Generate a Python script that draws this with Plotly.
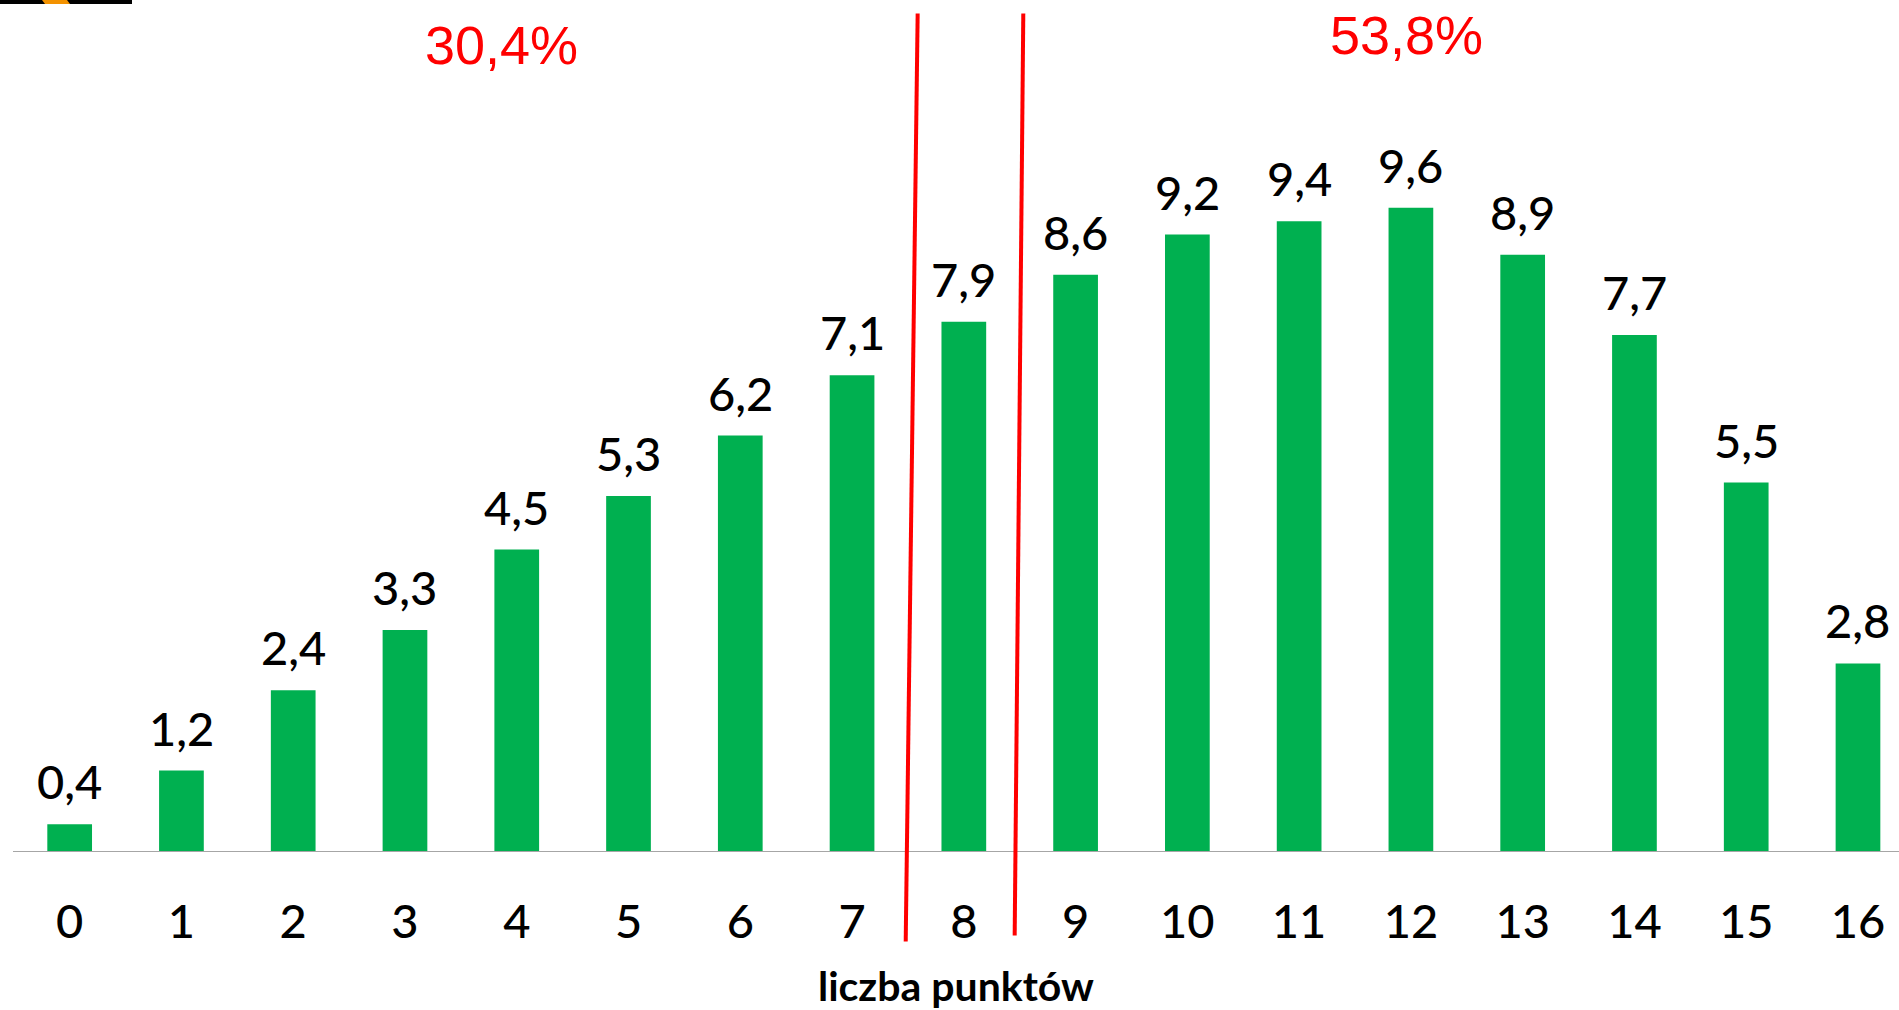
import plotly.graph_objects as go

# ---- data ----
points = [str(i) for i in range(17)]
shares = [0.4, 1.2, 2.4, 3.3, 4.5, 5.3, 6.2, 7.1, 7.9, 8.6, 9.2, 9.4, 9.6, 8.9, 7.7, 5.5, 2.8]
share_below = "30,4%"
share_above = "53,8%"
axis_title = "liczba punktów"

W, H = 1899, 1010
ML, MB = 13, 159
plot_h = H - MB
px_per_unit = 67.0

x_idx = list(range(len(points)))
labels = [f"{v:.1f}".replace(".", ",") for v in shares]

fig = go.Figure()
fig.add_trace(go.Bar(
    x=x_idx, y=shares, width=0.4,
    marker=dict(color="#00B050", line=dict(width=0)),
    hoverinfo="skip", showlegend=False,
))

LABEL_FONT = dict(family="Lato, 'Open Sans', sans-serif", size=47, color="#000000", weight=500)

for xi, v, t in zip(x_idx, shares, labels):
    fig.add_annotation(x=xi, y=v, xref="x", yref="y", text=t, showarrow=False,
                       yanchor="bottom", yshift=13, font=LABEL_FONT)

# red divider lines
def py(p):
    return (plot_h - p) / plot_h

fig.add_shape(type="line", xref="x", yref="paper", x0=7.587, y0=py(13.5), x1=7.480, y1=py(941.5),
              line=dict(color="#FF0000", width=4), layer="above")
fig.add_shape(type="line", xref="x", yref="paper", x0=8.532, y0=py(13.5), x1=8.455, y1=py(935.4),
              line=dict(color="#FF0000", width=4), layer="above")

RED_FONT = dict(family="'Liberation Sans', Arial, sans-serif", size=54, color="#FF0000")
fig.add_annotation(x=3.86, y=py(45), xref="x", yref="paper", text=share_below, showarrow=False,
                   xanchor="center", yanchor="middle", font=RED_FONT)
fig.add_annotation(x=11.96, y=py(35), xref="x", yref="paper", text=share_above, showarrow=False,
                   xanchor="center", yanchor="middle", font=RED_FONT)

# axis title
fig.add_annotation(x=0.5, y=py(986), xref="paper", yref="paper", text=f"<b>{axis_title}</b>",
                   showarrow=False, xanchor="center", yanchor="middle",
                   font=dict(family="Lato, sans-serif", size=41, color="#000000"))

# remnant of logo at top-left
def pxp(p):
    return (p - ML) / (W - ML)

fig.add_shape(type="rect", xref="paper", yref="paper", x0=pxp(0), x1=pxp(132), y0=py(4), y1=py(0),
              fillcolor="#000000", line=dict(width=0), layer="above")
fig.add_shape(type="path", xref="paper", yref="paper",
              path=f"M {pxp(42)} {py(0)} L {pxp(67)} {py(0)} L {pxp(70)} {py(4)} L {pxp(45)} {py(4)} Z",
              fillcolor="#F39200", line=dict(width=0), layer="above")

fig.update_layout(
    width=W, height=H,
    margin=dict(l=ML, r=0, t=0, b=MB, autoexpand=False),
    plot_bgcolor="#FFFFFF", paper_bgcolor="#FFFFFF",
    xaxis=dict(range=[-0.507, 16.367], tickmode="array", tickvals=x_idx, ticktext=points,
               showgrid=False, zeroline=False, showline=True, linecolor="#A6A6A6", linewidth=1,
               ticks="", ticklabelstandoff=30, tickfont=LABEL_FONT, fixedrange=True),
    yaxis=dict(range=[0, plot_h / px_per_unit], visible=False, showgrid=False, zeroline=False,
               fixedrange=True),
    bargap=0.6,
)

fig.write_html("out.html", config={"displayModeBar": False},
               post_script="document.body.style.margin='0';document.body.style.overflow='hidden';")
